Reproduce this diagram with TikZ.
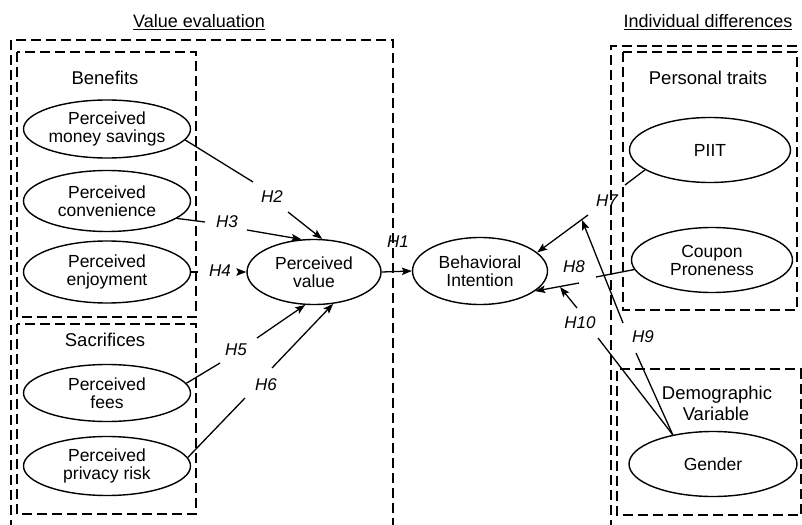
\documentclass[tikz,border=0pt]{standalone}
\usepackage{fontspec}
\setmainfont{Liberation Sans}
\usetikzlibrary{shapes.geometric,arrows.meta}
\begin{document}
\begin{tikzpicture}[x=1pt,y=-1pt,
  ell/.style={ellipse,draw,line width=1.4pt,inner sep=0pt,align=center,
    font=\fontsize{17.5}{18}\selectfont},
  dbox/.style={draw,line width=1.3pt,dash pattern=on 10pt off 5pt},
  grp/.style={font=\fontsize{18.5}{19}\selectfont,align=center,inner sep=0pt},
  ttl/.style={font=\fontsize{18}{19}\selectfont,inner sep=0pt},
  hl/.style={font=\itshape\fontsize{17}{18}\selectfont,inner sep=0pt},
  ln/.style={line width=1.3pt},
  arr/.style={line width=1.3pt,-{Stealth[length=10pt,width=7.5pt,inset=2pt]}}]
\useasboundingbox (0,0) rectangle (802,524);
\clip (0,0) rectangle (802,524);

% titles
\node[ttl] (tve) at (199,22) {\underline{Value evaluation}};
\node[ttl] (tid) at (708,22) {\underline{Individual differences}};

% dashed boxes
\draw[dbox] (11,530) -- (11,40) -- (393,40) -- (393,530);
\draw[dbox] (17,52) rectangle (196,317);
\draw[dbox] (17,324) rectangle (196,514);
\draw[dbox] (611,530) -- (611,46) -- (810,46);
\draw[dbox] (623,52) rectangle (797,310);
\draw[dbox] (810,369) -- (617,369) -- (617,515) -- (810,515);
\draw[dbox] (801,369) -- (801,515);

% group labels
\node[grp] (gb) at (105,78) {Benefits};
\node[grp] (gs) at (105,340) {Sacrifices};
\node[grp] (gp) at (708,78) {Personal traits};
\node[grp] (gd) at (717,395) {Demographic};
\node[grp] (gv) at (716,414) {Variable};

% ellipses
\node[ell,minimum width=167pt,minimum height=58pt] (ms) at (107,129) {Perceived\\money savings};
\node[ell,minimum width=167pt,minimum height=61pt] (cv) at (107,201) {Perceived\\convenience};
\node[ell,minimum width=167pt,minimum height=62pt] (ej) at (107,272) {Perceived\\enjoyment};
\node[ell,minimum width=167pt,minimum height=57pt] (fe) at (107,393) {Perceived\\fees};
\node[ell,minimum width=167pt,minimum height=59pt] (pr) at (107,466) {Perceived\\privacy risk};
\node[ell,minimum width=134pt,minimum height=65pt] (pv) at (314,272) {Perceived\\value};
\node[ell,minimum width=135pt,minimum height=67pt] (bi) at (480,271) {Behavioral\\Intention};
\node[ell,minimum width=161pt,minimum height=65pt] (pi) at (710,150) {PIIT};
\node[ell,minimum width=161pt,minimum height=65pt] (cp) at (712,260) {Coupon\\Proneness};
\node[ell,minimum width=168pt,minimum height=65pt] (ge) at (713,464) {Gender};

% gap coordinates
\coordinate (h2a) at (253,182); \coordinate (h2b) at (288,212);
\coordinate (h3a) at (205,222); \coordinate (h3b) at (247,230);
\coordinate (h4a) at (198,272); \coordinate (h4b) at (239,272);
\coordinate (h5a) at (220,363); \coordinate (h5b) at (257,338);
\coordinate (h6a) at (245,398); \coordinate (h6b) at (272,368);
\coordinate (h7a) at (625,185); \coordinate (h7b) at (588,215);
\coordinate (h8a) at (596,277); \coordinate (h8b) at (579,283);
\coordinate (h9a) at (636,353); \coordinate (h9b) at (623,323);
\coordinate (h9t) at (582,220);
\coordinate (h10a) at (598,338); \coordinate (h10b) at (577,308);
\coordinate (h10t) at (560,287);

% connectors
\draw[ln] (ms.-8) -- (h2a);  \draw[arr] (h2b) -- (pv.76);
\draw[ln] (cv.-14) -- (h3a); \draw[arr] (h3b) -- (pv.111);
\draw[ln] (ej.east) -- (h4a); \draw[arr] (h4b) -- (pv.west);
\draw[ln] (fe.7) -- (h5a);   \draw[arr] (h5b) -- (pv.255);
\draw[ln] (pr.6) -- (h6a);   \draw[arr] (h6b) -- (pv.301);
\draw[arr] (pv.east) -- (bi.west);
\draw[ln] (pi.197) -- (h7a); \draw[arr] (h7b) -- (bi.18);
\draw[ln] (cp.187) -- (h8a); \draw[arr] (h8b) -- (bi.-20);
\draw[ln] (ge.144) -- (h9a); \draw[arr] (h9b) -- (h9t);
\draw[ln] (ge.144) -- (h10a); \draw[arr] (h10b) -- (h10t);

% labels
\node[hl] (l1) at (398,242) {H1};
\node[hl] (l2) at (272,197) {H2};
\node[hl] (l3) at (227,222) {H3};
\node[hl] (l4) at (220,271) {H4};
\node[hl] (l5) at (236,350) {H5};
\node[hl] (l6) at (266,385) {H6};
\node[hl] (l7) at (607,201) {H7};
\node[hl] (l8) at (574,267) {H8};
\node[hl] (l9) at (643,337) {H9};
\node[hl] (l10) at (580,323) {H10};
\end{tikzpicture}
\end{document}
